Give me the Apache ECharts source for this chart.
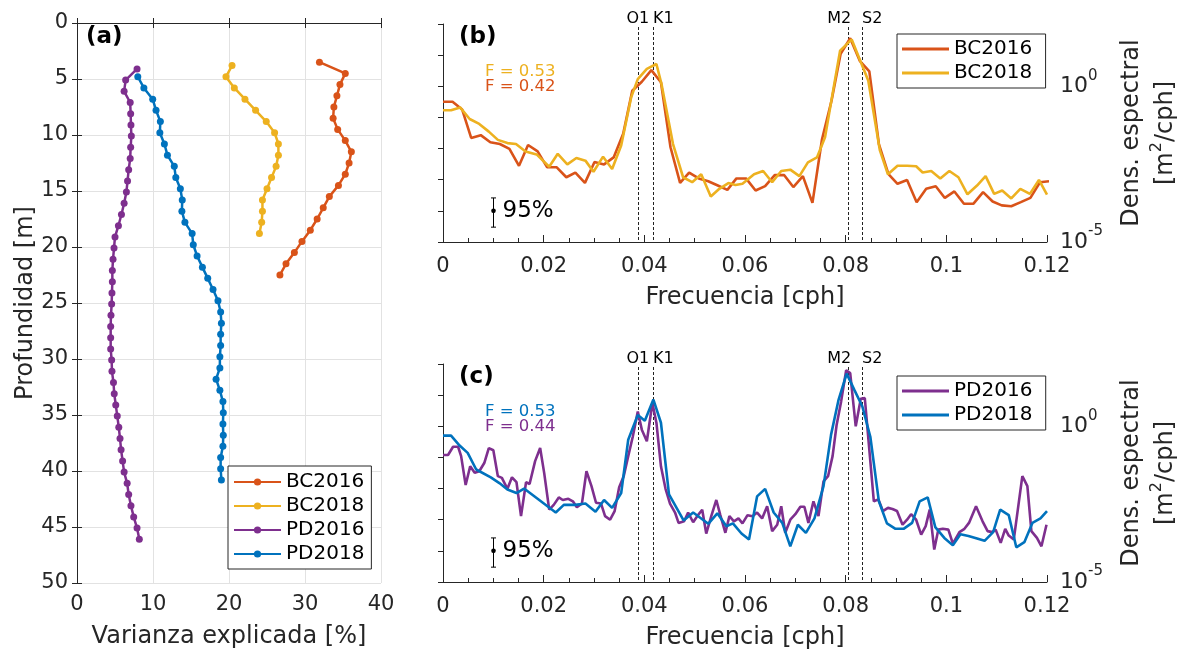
<!DOCTYPE html>
<html>
<head>
<meta charset="utf-8">
<script src="https://cdn.jsdelivr.net/npm/echarts@6/dist/echarts.min.js"></script>
<style>
  html, body { margin: 0; padding: 0; background: #fff; }
  #chart { width: 1191px; height: 656px; }
</style>
</head>
<body>
<div id="chart"></div>
<script>
// ---------- (a) Explained variance profiles: depth (m) and variance (%) ----------
const bc2016Depth = [3.5, 4.5, 5.5, 6.5, 7.5, 8.5, 9.5, 10.5, 11.5, 12.5, 13.5, 14.5, 15.5, 16.5, 17.5, 18.5, 19.5, 20.5, 21.5, 22.5];
const bc2016Var = [31.9, 35.3, 34.6, 34.2, 33.8, 33.7, 34.3, 35.3, 36.1, 35.8, 35.3, 34.4, 33.2, 32.4, 31.6, 30.7, 29.6, 28.6, 27.5, 26.7];

const bc2018Depth = [3.8, 4.8, 5.8, 6.8, 7.8, 8.8, 9.8, 10.8, 11.8, 12.8, 13.8, 14.8, 15.8, 16.8, 17.8, 18.8];
const bc2018Var = [20.4, 19.6, 20.7, 22.1, 23.5, 24.9, 26.0, 26.5, 26.5, 26.2, 25.6, 25.0, 24.4, 24.4, 24.3, 24.0];

const pd2016Depth = [4.1, 5.1, 6.1, 7.1, 8.1, 9.1, 10.1, 11.1, 12.1, 13.1, 14.1, 15.1, 16.1, 17.1, 18.1, 19.1, 20.1, 21.1, 22.1, 23.1, 24.1, 25.1,
  26.1, 27.1, 28.1, 29.1, 30.1, 31.1, 32.1, 33.1, 34.1, 35.1, 36.1, 37.1, 38.1, 39.1, 40.1, 41.1, 42.1, 43.1, 44.1, 45.1, 46.1];
const pd2016Var = [7.9, 6.4, 6.2, 7.0, 7.06, 7.1, 7.15, 7.06, 7.0, 6.8, 6.65, 6.5, 6.2, 5.85, 5.45, 5.0, 4.87, 4.74, 4.65, 4.65, 4.6, 4.56,
  4.47, 4.43, 4.43, 4.43, 4.56, 4.6, 4.8, 4.9, 5.1, 5.3, 5.5, 5.66, 5.8, 6.0, 6.2, 6.6, 6.8, 7.1, 7.46, 7.9, 8.2];

const pd2018Depth = [4.8, 5.8, 6.8, 7.8, 8.8, 9.8, 10.8, 11.8, 12.8, 13.8, 14.8, 15.8, 16.8, 17.8, 18.8, 19.8, 20.8, 21.8, 22.8,
  23.8, 24.8, 25.8, 26.8, 27.8, 28.8, 29.8, 30.8, 31.8, 32.8, 33.8, 34.8, 35.8, 36.8, 37.8, 38.8, 39.8, 40.8];
const pd2018Var = [8.0, 8.8, 9.96, 10.4, 10.97, 10.9, 11.5, 11.9, 12.8, 13.0, 13.6, 13.85, 13.8, 14.2, 15.15, 15.3, 15.8, 16.5, 17.2,
  17.9, 18.55, 18.9, 19.0, 18.9, 18.9, 18.8, 18.8, 18.3, 18.8, 19.2, 19.25, 19.2, 19.25, 19.2, 18.9, 18.9, 19.0];

// ---------- (b) Bahia spectra: frequency (cph) and spectral density (m^2/cph) ----------
const bc2016Freq = [0, 0.0019, 0.0038, 0.0056, 0.0075, 0.0094, 0.0113, 0.0132, 0.0151, 0.0169, 0.0188, 0.0207, 0.0226, 0.0245,
  0.0263, 0.0282, 0.0301, 0.0320, 0.0339, 0.0358, 0.0376, 0.0395, 0.0414, 0.0433, 0.0452, 0.0471, 0.0489, 0.0508, 0.0527, 0.0546,
  0.0565, 0.0583, 0.0602, 0.0621, 0.0640, 0.0659, 0.0678, 0.0696, 0.0715, 0.0734, 0.0753, 0.0772, 0.0790, 0.0809, 0.0828, 0.0847,
  0.0866, 0.0885, 0.0903, 0.0922, 0.0941, 0.0960, 0.0979, 0.0997, 0.1016, 0.1035, 0.1054, 0.1073, 0.1092, 0.1110, 0.1129, 0.1148,
  0.1167, 0.1186, 0.1204];
const bc2016Dens = [0.32, 0.32, 0.18, 0.022, 0.027, 0.016, 0.014, 0.0098, 0.0028, 0.013, 0.0081, 0.0025, 0.0025, 0.0012, 0.0017,
  0.00079, 0.0037, 0.0031, 0.0052, 0.030, 0.72, 1.4, 3.3, 1.35, 0.011, 0.00079, 0.0017, 0.0011, 0.00089, 0.00065, 0.00047, 0.0011,
  0.0011, 0.00045, 0.00062, 0.0014, 0.0014, 0.00058, 0.0013, 0.00018, 0.020, 0.35, 11, 35, 6.6, 3.0, 0.014, 0.0015, 0.00074,
  0.00098, 0.00019, 0.00051, 0.00062, 0.00026, 0.00042, 0.00017, 0.00017, 0.00040, 0.00020, 0.00015, 0.00014, 0.00019, 0.00026,
  0.00083, 0.00089];

const bc2018Spec = [[0, 0.17], [0.0016, 0.17], [0.0034, 0.21], [0.0053, 0.089], [0.0072, 0.062], [0.0091, 0.035], [0.0109, 0.019],
  [0.0128, 0.015], [0.0145, 0.014], [0.0164, 0.0081], [0.0186, 0.0065], [0.0211, 0.0026], [0.0228, 0.0068], [0.0247, 0.0031],
  [0.0265, 0.0050], [0.0283, 0.0041], [0.0299, 0.0018], [0.0318, 0.0055], [0.0336, 0.0022], [0.0354, 0.0126], [0.0374, 0.45],
  [0.0387, 1.7], [0.0405, 3.6], [0.0424, 5.2], [0.0434, 1.2], [0.0457, 0.014], [0.0477, 0.0012], [0.0495, 0.00083], [0.0513, 0.0015],
  [0.0532, 0.00029], [0.0549, 0.00051], [0.0567, 0.00078], [0.0581, 0.00068], [0.0595, 0.00074], [0.0618, 0.0015], [0.0636, 0.0019],
  [0.0654, 0.00083], [0.0672, 0.0019], [0.0690, 0.0021], [0.0708, 0.0013], [0.0725, 0.0036], [0.0743, 0.0052], [0.0759, 0.023],
  [0.0776, 0.89], [0.0789, 14], [0.0812, 32], [0.0845, 1.5], [0.0868, 0.0087], [0.0884, 0.0015], [0.0903, 0.0028], [0.0922, 0.0028],
  [0.0940, 0.0027], [0.0953, 0.0017], [0.0970, 0.0019], [0.0988, 0.0011], [0.1006, 0.0019], [0.1024, 0.0012], [0.1042, 0.00034],
  [0.1061, 0.00065], [0.1078, 0.0013], [0.1095, 0.00035], [0.1111, 0.00045], [0.1129, 0.00025], [0.1147, 0.00051], [0.1166, 0.00035],
  [0.1184, 0.00098], [0.1200, 0.00033]];

// ---------- (c) Punta spectra ----------
const pd2016Spec = [[0, 0.12], [0.0010, 0.12], [0.0020, 0.22], [0.0030, 0.22], [0.0036, 0.11], [0.0045, 0.013], [0.0054, 0.052],
  [0.0063, 0.032], [0.0072, 0.036], [0.0082, 0.066], [0.0091, 0.20], [0.0100, 0.17], [0.0109, 0.025], [0.0117, 0.022], [0.0128, 0.0098],
  [0.0137, 0.023], [0.0146, 0.016], [0.0155, 0.0013], [0.0165, 0.016], [0.0172, 0.014], [0.0183, 0.076], [0.0193, 0.20], [0.0201, 0.032],
  [0.0211, 0.0021], [0.0220, 0.0030], [0.0230, 0.0052], [0.0238, 0.0043], [0.0249, 0.0047], [0.0258, 0.0039], [0.0266, 0.0025],
  [0.0276, 0.0033], [0.0285, 0.036], [0.0295, 0.012], [0.0304, 0.0035], [0.0314, 0.0033], [0.0322, 0.0013], [0.0332, 0.0010],
  [0.0341, 0.0019], [0.0350, 0.011], [0.0359, 0.025], [0.0368, 0.11], [0.0377, 0.46], [0.0387, 3.0], [0.0395, 0.78], [0.0405, 0.33],
  [0.0416, 5.6], [0.0424, 1.3], [0.0433, 0.052], [0.0442, 0.010], [0.0451, 0.0033], [0.0461, 0.0017], [0.0468, 0.00079],
  [0.0479, 0.00089], [0.0487, 0.0017], [0.0497, 0.00083], [0.0505, 0.0013], [0.0515, 0.0021], [0.0523, 0.00036], [0.0533, 0.0013],
  [0.0543, 0.0043], [0.0551, 0.0014], [0.0561, 0.00038], [0.0569, 0.0013], [0.0578, 0.00089], [0.0587, 0.0011], [0.0595, 0.00076],
  [0.0605, 0.0014], [0.0615, 0.0013], [0.0624, 0.0017], [0.0634, 0.0011], [0.0644, 0.0027], [0.0654, 0.00043], [0.0664, 0.00069],
  [0.0672, 0.0027], [0.0680, 0.00038], [0.0690, 0.0010], [0.0700, 0.0015], [0.0710, 0.0026], [0.0718, 0.0026], [0.0726, 0.00079],
  [0.0736, 0.0039], [0.0746, 0.0013], [0.0756, 0.017], [0.0765, 0.025], [0.0774, 0.11], [0.0782, 1.1], [0.0791, 6.3], [0.0801, 63],
  [0.0809, 51], [0.0820, 1.0], [0.0830, 7.6], [0.0838, 8.1], [0.0856, 0.0039], [0.0865, 0.0045], [0.0874, 0.0019], [0.0884, 0.0024],
  [0.0893, 0.0022], [0.0902, 0.0019], [0.0913, 0.00069], [0.0922, 0.0010], [0.0930, 0.0015], [0.0940, 0.0010], [0.0950, 0.00033],
  [0.0959, 0.00062], [0.0967, 0.0021], [0.0976, 0.00011], [0.0984, 0.00048], [0.0993, 0.00051], [0.1004, 0.00048], [0.1013, 0.00017],
  [0.1026, 0.00040], [0.1036, 0.00051], [0.1045, 0.00079], [0.1059, 0.0027], [0.1072, 0.00089], [0.1082, 0.00043], [0.1091, 0.00040],
  [0.1098, 0.00048], [0.1108, 0.00018], [0.1117, 0.00051], [0.1124, 0.00031], [0.1134, 0.00023], [0.1151, 0.025], [0.1161, 0.012],
  [0.1169, 0.00043], [0.1180, 0.00026], [0.1189, 0.00014], [0.1199, 0.00069]];

const pd2018Spec = [[0, 0.50], [0.0016, 0.50], [0.0033, 0.24], [0.0049, 0.14], [0.0066, 0.041], [0.0095, 0.023], [0.0112, 0.015],
  [0.0128, 0.0093], [0.0146, 0.0072], [0.0161, 0.010], [0.0224, 0.0017], [0.0240, 0.0030], [0.0263, 0.0030], [0.0283, 0.0033],
  [0.0303, 0.0018], [0.0320, 0.0043], [0.0336, 0.0024], [0.0354, 0.0072], [0.0368, 0.37], [0.0387, 2.3], [0.0401, 1.5], [0.0418, 7.2],
  [0.0433, 1.3], [0.0449, 0.0065], [0.0478, 0.00095], [0.0497, 0.0017], [0.0527, 0.00074], [0.0545, 0.0016], [0.0563, 0.00062],
  [0.0576, 0.00076], [0.0593, 0.00036], [0.0608, 0.00023], [0.0624, 0.0056], [0.0640, 0.0098], [0.0657, 0.0017], [0.0674, 0.00079],
  [0.0690, 0.00014], [0.0705, 0.00069], [0.0721, 0.00038], [0.0738, 0.0011], [0.0756, 0.012], [0.0771, 0.54], [0.0786, 7.2],
  [0.0802, 49], [0.0817, 15], [0.0833, 4.4], [0.0849, 0.46], [0.0866, 0.0039], [0.0882, 0.00076], [0.0899, 0.00051], [0.0915, 0.00051],
  [0.0932, 0.00079], [0.0947, 0.0039], [0.0963, 0.0052], [0.0978, 0.00058], [0.0996, 0.00026], [0.1013, 0.00015], [0.1028, 0.00034],
  [0.1044, 0.00030], [0.1061, 0.00025], [0.1076, 0.00021], [0.1093, 0.00040], [0.1107, 0.0021], [0.1124, 0.0014], [0.1139, 0.00013],
  [0.1155, 0.00019], [0.1171, 0.00079], [0.1187, 0.0011], [0.1200, 0.0019]];

// Tidal constituents marked on the spectra
const tideNames = ['O1', 'K1', 'M2', 'S2'];
const tideFreqs = [0.0387, 0.0418, 0.0805, 0.0833];
// 95% confidence interval shown as an error bar: [lower, centre, upper]
const ciFreq = 0.01;
const ciBounds = [3.0e-5, 1.0e-4, 2.6e-4];
// Coherence annotations
const coherenceB = ['F = 0.53', 'F = 0.42'];
const coherenceC = ['F = 0.53', 'F = 0.44'];

// ---------- styling ----------
const FONT = 'DejaVu Sans';
const INK = '#262626';
const ORANGE = '#D95319', YELLOW = '#EDB120', PURPLE = '#7E2F8E', BLUE = '#0072BD';
const tideLabelShift = [0, 10, -9, 10];

const zip = (xs, ys) => xs.map((x, i) => [x, ys[i]]);

const axisLine = { show: true, lineStyle: { color: INK, width: 1 } };
const tickIn = (len) => ({ show: true, inside: true, length: len, lineStyle: { color: INK, width: 1 } });

function freqAxis(gridIndex) {
  return {
    gridIndex, type: 'value', min: 0, max: 0.12, interval: 0.02, position: 'bottom',
    axisLine, axisTick: tickIn(7),
    minorTick: { show: true, splitNumber: 4, length: 4, lineStyle: { color: INK, width: 1 } },
    splitLine: { show: false },
    axisLabel: { fontSize: 21, fontFamily: FONT, color: INK, margin: 14, showMinLabel: true, showMaxLabel: true,
      formatter: v => String(+v.toFixed(2)) },
    name: 'Frecuencia [cph]', nameLocation: 'middle', nameGap: 44,
    nameTextStyle: { fontSize: 24, fontFamily: FONT, color: INK }
  };
}

function densAxis(gridIndex) {
  return {
    gridIndex, type: 'log', logBase: 10, min: 1e-5, max: 100, splitNumber: 7, position: 'right',
    axisLine, axisTick: tickIn(5), splitLine: { show: false },
    axisLabel: {
      fontSize: 22, fontFamily: FONT, color: INK, margin: 13, lineHeight: 36, showMinLabel: true, showMaxLabel: true,
      formatter: v => { const e = Math.round(Math.log10(v)); return (e === 0 || e === -5) ? '10{sup|' + e + '}' : ''; },
      rich: { sup: { fontSize: 15, lineHeight: 15, verticalAlign: 'top', fontFamily: FONT, color: INK } }
    },
    name: 'Dens. espectral\n[m{sup|2}/cph]', nameLocation: 'middle', nameRotate: 90, nameGap: 68,
    nameTextStyle: { fontSize: 24, fontFamily: FONT, color: INK, lineHeight: 34,
      rich: { sup: { fontSize: 16, lineHeight: 16, verticalAlign: 'top', fontFamily: FONT, color: INK } } }
  };
}

function specLine(name, data, color, xi, yi) {
  return { name, type: 'line', xAxisIndex: xi, yAxisIndex: yi, data, symbol: 'none', clip: true,
    lineStyle: { color, width: 2.6 }, itemStyle: { color }, z: 3 };
}

function profileLine(name, depth, variance, color) {
  return { name, type: 'line', xAxisIndex: 0, yAxisIndex: 0, data: zip(variance, depth),
    symbol: 'circle', symbolSize: 7, lineStyle: { color, width: 2.5 }, itemStyle: { color }, z: 3 };
}

function tideSeries(xi, yi) {
  return {
    type: 'custom', xAxisIndex: xi, yAxisIndex: yi, silent: true, z: 2,
    data: tideFreqs.map(f => [f, 1]), encode: { x: 0, y: 1 },
    renderItem(params, api) {
      const f = api.value(0);
      const top = api.coord([f, 100]);
      const bot = api.coord([f, 1e-5]);
      const x = Math.round(top[0]) + 0.5;
      return { type: 'group', children: [
        { type: 'line', shape: { x1: x, y1: top[1] + 3, x2: x, y2: bot[1] },
          style: { stroke: '#222', lineWidth: 1, lineDash: [3, 2] } },
        { type: 'text', x: top[0] + tideLabelShift[params.dataIndex], y: top[1] - 5.5,
          style: { text: tideNames[params.dataIndex], fontSize: 16, fontFamily: FONT, fill: '#000',
            align: 'center', verticalAlign: 'middle' } }
      ] };
    }
  };
}

function ciSeries(xi, yi) {
  return {
    type: 'custom', xAxisIndex: xi, yAxisIndex: yi, silent: true, z: 4,
    data: [[ciFreq, ciBounds[1], ciBounds[0], ciBounds[2]]], encode: { x: 0, y: 1 },
    renderItem(params, api) {
      const f = api.value(0);
      const c = api.coord([f, api.value(1)]);
      const lo = api.coord([f, api.value(2)]);
      const hi = api.coord([f, api.value(3)]);
      const x = Math.round(c[0]) + 0.5;
      const ink = { stroke: '#000', lineWidth: 1 };
      return { type: 'group', children: [
        { type: 'line', shape: { x1: x, y1: lo[1], x2: x, y2: hi[1] }, style: ink },
        { type: 'line', shape: { x1: x - 2.5, y1: lo[1], x2: x + 2.5, y2: lo[1] }, style: ink },
        { type: 'line', shape: { x1: x - 2.5, y1: hi[1], x2: x + 2.5, y2: hi[1] }, style: ink },
        { type: 'circle', shape: { cx: x, cy: c[1], r: 2.3 }, style: { fill: '#000' } },
        { type: 'text', x: x + 9, y: c[1], style: { text: '95%', fontSize: 23, fontFamily: FONT, fill: '#000', verticalAlign: 'middle' } }
      ] };
    }
  };
}

// Legend box; plainLine draws a bare line swatch (spectra have no markers)
function legendBox(left, top, names, padding, plainLine) {
  return {
    left, top, orient: 'vertical', data: names,
    itemWidth: 47, itemHeight: plainLine ? 3 : 9, itemGap: 0, padding,
    icon: plainLine ? 'rect' : undefined,
    borderColor: INK, borderWidth: 1, backgroundColor: '#fff', borderRadius: 0,
    textStyle: { fontSize: 20, fontFamily: FONT, color: '#000', lineHeight: 24 },
    selectedMode: false
  };
}

const textEl = (x, y, text, size, color, bold) => ({
  type: 'text', x, y, z: 50,
  style: { text, fontSize: size, fontFamily: FONT, fontWeight: bold ? 'bold' : 'normal', fill: color, verticalAlign: 'middle' }
});

const option = {
  animation: false,
  backgroundColor: '#fff',
  textStyle: { fontFamily: FONT },
  grid: [
    { left: 77, top: 23, width: 304, height: 560 },
    { left: 443, top: 24, width: 609, height: 218 },
    { left: 443, top: 364, width: 609, height: 218 }
  ],
  xAxis: [
    { gridIndex: 0, type: 'value', min: 0, max: 40, interval: 10, position: 'bottom', axisLine, axisTick: tickIn(5),
      splitLine: { show: true, lineStyle: { color: '#e2e2e2', width: 1 } },
      axisLabel: { fontSize: 21, fontFamily: FONT, color: INK, margin: 11, showMinLabel: true, showMaxLabel: true },
      name: 'Varianza explicada [%]', nameLocation: 'middle', nameGap: 42,
      nameTextStyle: { fontSize: 24, fontFamily: FONT, color: INK } },
    { gridIndex: 0, type: 'value', min: 0, max: 40, interval: 10, position: 'top', axisLine, axisTick: tickIn(5),
      axisLabel: { show: false }, splitLine: { show: false } },
    freqAxis(1),
    freqAxis(2)
  ],
  yAxis: [
    { gridIndex: 0, type: 'value', inverse: true, min: 0, max: 50, interval: 5, position: 'left', axisLine, axisTick: tickIn(5),
      splitLine: { show: true, lineStyle: { color: '#e2e2e2', width: 1 } },
      axisLabel: { fontSize: 21, fontFamily: FONT, color: INK, margin: 9, showMinLabel: true, showMaxLabel: true },
      name: 'Profundidad [m]', nameLocation: 'middle', nameGap: 33, nameRotate: 90,
      nameTextStyle: { fontSize: 24, fontFamily: FONT, color: INK } },
    { gridIndex: 0, type: 'value', inverse: true, min: 0, max: 50, interval: 5, position: 'right', axisLine, axisTick: tickIn(5),
      axisLabel: { show: false }, splitLine: { show: false } },
    densAxis(1),
    densAxis(2)
  ],
  legend: [
    legendBox(228, 466, ['BC2016', 'BC2018', 'PD2016', 'PD2018'], [4, 7, 3, 5], false),
    legendBox(897, 34, ['BC2016 ', 'BC2018 '], [3, 7, 3, 5], true),
    legendBox(897, 376, ['PD2016 ', 'PD2018 '], [3, 7, 3, 5], true)
  ],
  series: [
    profileLine('BC2016', bc2016Depth, bc2016Var, ORANGE),
    profileLine('BC2018', bc2018Depth, bc2018Var, YELLOW),
    profileLine('PD2016', pd2016Depth, pd2016Var, PURPLE),
    profileLine('PD2018', pd2018Depth, pd2018Var, BLUE),
    tideSeries(2, 2),
    tideSeries(3, 3),
    specLine('BC2016 ', zip(bc2016Freq, bc2016Dens), ORANGE, 2, 2),
    specLine('BC2018 ', bc2018Spec, YELLOW, 2, 2),
    specLine('PD2016 ', pd2016Spec, PURPLE, 3, 3),
    specLine('PD2018 ', pd2018Spec, BLUE, 3, 3),
    ciSeries(2, 2),
    ciSeries(3, 3)
  ],
  graphic: [
    textEl(86, 37, '(a)', 23, '#000', true),
    textEl(459, 37, '(b)', 23, '#000', true),
    textEl(459, 377, '(c)', 23, '#000', true),
    textEl(485, 72, coherenceB[0], 16.5, YELLOW, false),
    textEl(485, 87, coherenceB[1], 16.5, ORANGE, false),
    textEl(485, 412, coherenceC[0], 16.5, BLUE, false),
    textEl(485, 427, coherenceC[1], 16.5, PURPLE, false)
  ]
};

const chart = echarts.init(document.getElementById('chart'), null, { renderer: 'canvas' });
chart.setOption(option);
</script>
</body>
</html>
